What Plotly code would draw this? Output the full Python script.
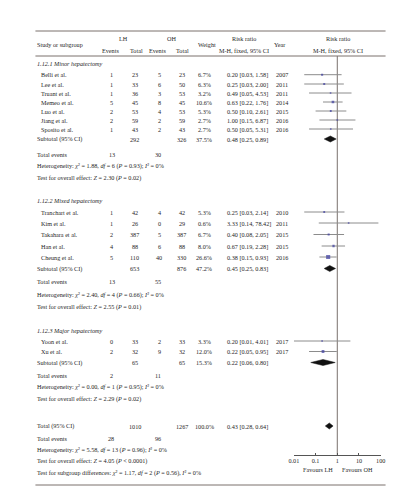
import plotly.graph_objects as go

W, H = 405, 500

# ---- data ----
sub_titles = ["1.12.1 Minor hepatectomy", "1.12.2 Mixed hepatectomy", "1.12.3 Major hepatectomy"]

studies = [
    ["Belli et al.", "Lee et al.", "Truant et al.", "Memeo et al.", "Luo et al.", "Jiang et al.", "Sposito et al."],
    ["Tranchart et al.", "Kim et al.", "Takahara et al.", "Han et al.", "Cheung et al."],
    ["Yoon et al.", "Xu et al."],
]
lh_events = [[1, 1, 1, 5, 2, 2, 1], [1, 1, 2, 4, 5], [0, 2]]
lh_total = [[23, 33, 36, 45, 53, 59, 43], [42, 26, 387, 88, 110], [33, 32]]
oh_events = [[5, 6, 3, 8, 4, 2, 2], [4, 0, 5, 6, 40], [2, 9]]
oh_total = [[23, 50, 53, 45, 53, 59, 43], [42, 29, 387, 88, 330], [33, 32]]
weights = [[6.7, 6.3, 3.2, 10.6, 5.3, 2.7, 2.7], [5.3, 0.6, 6.7, 8.0, 26.6], [3.3, 12.0]]
rr = [[0.20, 0.25, 0.49, 0.63, 0.50, 1.00, 0.50], [0.25, 3.33, 0.40, 0.67, 0.38], [0.20, 0.22]]
rr_lo = [[0.03, 0.03, 0.05, 0.22, 0.10, 0.15, 0.05], [0.03, 0.14, 0.08, 0.19, 0.15], [0.01, 0.05]]
rr_hi = [[1.58, 2.00, 4.53, 1.76, 2.61, 6.87, 5.31], [2.14, 78.42, 2.05, 2.28, 0.93], [4.01, 0.95]]
years = [[2007, 2011, 2011, 2014, 2015, 2016, 2016], [2010, 2011, 2015, 2015, 2016], [2017, 2017]]

sub_lh_total = [292, 653, 65]
sub_oh_total = [326, 876, 65]
sub_weight = [37.5, 47.2, 15.3]
sub_rr = [0.48, 0.45, 0.22]
sub_lo = [0.25, 0.25, 0.06]
sub_hi = [0.89, 0.83, 0.80]
sub_lh_events = [13, 13, 2]
sub_oh_events = [30, 55, 11]
sub_chi2 = ["1.88", "2.40", "0.00"]
sub_df = [6, 4, 1]
sub_het_p = ["0.93", "0.66", "0.95"]
sub_i2 = [0, 0, 0]
sub_z = ["2.30", "2.55", "2.29"]
sub_z_p = ["= 0.02", "= 0.01", "= 0.02"]

total_lh, total_oh, total_w = 1010, 1267, 100.0
total_rr, total_lo, total_hi = 0.43, 0.28, 0.64
total_lh_events, total_oh_events = 28, 96
total_het = ("5.58", 13, "0.96", 0)
total_z = ("4.05", "< 0.0001")
subgroup_diff = ("1.17", 2, "0.56", 0)

tick_vals = [0.01, 0.1, 1, 10, 100]
tick_text = ["0.01", "0.1", "1", "10", "100"]

# ---- layout (pixel rows) ----
row_y = [
    [55, 66.7, 76, 85, 94, 103, 112, 121, 131, 146, 158, 170],
    [192, 204, 215, 226.5, 238, 249, 260.5, 273, 287, 299],
    [322, 333, 343.5, 354.5, 367, 379, 391],
]
total_y = [418, 430, 442, 453, 465]

TXT = "#1f1f1f"
RULE = "#7a716d"
FONT = "Liberation Serif"
FS = 6.2

col_study = 23
col_name = 27
col_ev1, col_tot1, col_ev2, col_tot2 = 101, 125, 150, 173
col_w = 196
col_rr = 217
col_year = 268

annotations = []


def txt(x, y, s, anchor="center", size=FS):
    annotations.append(dict(
        x=x / W, y=y, xref="paper", yref="y", text=s, showarrow=False,
        xanchor=anchor, yanchor="middle", font=dict(family=FONT, size=size, color=TXT),
    ))


def het_text(chi2, df, p, i2, sep=";"):
    return ("<i>χ</i>² = %s, <i>df</i> = %d (<i>P</i> = %s)%s <i>I</i>² = %d%%"
            % (chi2, df, p, sep, i2))


fig = go.Figure()

# header
txt(col_study, 36, "Study or subgroup", "left")
txt(113, 30, "LH")
txt(162, 30, "OH")
txt(100, 42, "Events")
txt(127, 42, "Total")
txt(148, 42, "Events")
txt(174, 42, "Total")
txt(199, 36, "Weight")
txt(237, 30, "Risk ratio")
txt(237, 42, "M-H, fixed, 95% CI")
txt(273, 36, "Year")
txt(333, 30, "Risk ratio")
txt(333, 42, "M-H, fixed, 95% CI")

ci_x, ci_y, sq_x, sq_y, sq_s = [], [], [], [], []


def diamond(lo, mid, hi, y):
    fig.add_trace(go.Scatter(
        x=[lo, mid, hi, mid, lo], y=[y, y - 3, y, y + 3, y], mode="lines",
        fill="toself", fillcolor="#111111", line=dict(color="#111111", width=0.5),
        hoverinfo="skip", showlegend=False,
    ))


for g in range(len(sub_titles)):
    ys = row_y[g]
    txt(col_study, ys[0], "<i>%s</i>" % sub_titles[g], "left")
    n = len(studies[g])
    for i in range(n):
        y = ys[1 + i]
        txt(col_name, y, studies[g][i], "left")
        txt(col_ev1, y, str(lh_events[g][i]))
        txt(col_tot1, y, str(lh_total[g][i]))
        txt(col_ev2, y, str(oh_events[g][i]))
        txt(col_tot2, y, str(oh_total[g][i]))
        txt(col_w, y, "%.1f%%" % weights[g][i])
        txt(col_rr, y, "%.2f [%.2f, %.2f]" % (rr[g][i], rr_lo[g][i], rr_hi[g][i]), "left")
        txt(col_year, y, str(years[g][i]), "left")
        ci_x += [rr_lo[g][i], rr_hi[g][i], None]
        ci_y += [y, y, None]
        sq_x.append(rr[g][i])
        sq_y.append(y)
        sq_s.append(max(1.6, 0.8 * weights[g][i] ** 0.5))
    y_sub, y_ev, y_het, y_z = ys[1 + n:]
    txt(col_study, y_sub, "Subtotal (95% CI)", "left")
    txt(col_tot1, y_sub, str(sub_lh_total[g]))
    txt(col_tot2, y_sub, str(sub_oh_total[g]))
    txt(col_w, y_sub, "%.1f%%" % sub_weight[g])
    txt(col_rr, y_sub, "%.2f [%.2f, %.2f]" % (sub_rr[g], sub_lo[g], sub_hi[g]), "left")
    diamond(sub_lo[g], sub_rr[g], sub_hi[g], y_sub)
    txt(col_study, y_ev, "Total events", "left")
    txt(col_ev1, y_ev, str(sub_lh_events[g]))
    txt(col_ev2 - 1, y_ev, str(sub_oh_events[g]))
    txt(col_study, y_het, "Heterogeneity: " + het_text(sub_chi2[g], sub_df[g], sub_het_p[g], sub_i2[g]), "left")
    txt(col_study, y_z, "Test for overall effect: <i>Z</i> = %s (<i>P</i> %s)" % (sub_z[g], sub_z_p[g]), "left")

# overall
ty = total_y
txt(col_study, ty[0], "Total (95% CI)", "left")
txt(col_tot1, ty[0], str(total_lh))
txt(col_tot2, ty[0], str(total_oh))
txt(col_w, ty[0], "%.1f%%" % total_w)
txt(col_rr, ty[0], "%.2f [%.2f, %.2f]" % (total_rr, total_lo, total_hi), "left")
diamond(total_lo, total_rr, total_hi, ty[0])
txt(col_study, ty[1], "Total events", "left")
txt(col_ev1 - 1, ty[1], str(total_lh_events))
txt(col_ev2 - 1, ty[1], str(total_oh_events))
txt(col_study, ty[2], "Heterogeneity: " + het_text(*total_het), "left")
txt(col_study, ty[3], "Test for overall effect: <i>Z</i> = %s (<i>P</i> %s)" % total_z, "left")
txt(col_study, ty[4], "Test for subgroup differences: " + het_text(*subgroup_diff, sep=","), "left")

txt(313, 461, "Favours LH")
txt(353, 461, "Favours OH")

fig.add_trace(go.Scatter(
    x=ci_x, y=ci_y, mode="lines", line=dict(color="#8c8c8c", width=1),
    hoverinfo="skip", showlegend=False,
))
fig.add_trace(go.Scatter(
    x=sq_x, y=sq_y, mode="markers",
    marker=dict(symbol="square", size=sq_s, color="#3b3b9e", line=dict(width=0)),
    hoverinfo="skip", showlegend=False,
))

shapes = [
    dict(type="line", xref="paper", yref="y", x0=23 / W, x1=382 / W, y0=23, y1=23,
         line=dict(color=RULE, width=1)),
    dict(type="line", xref="paper", yref="y", x0=23 / W, x1=382 / W, y0=48, y1=48,
         line=dict(color=RULE, width=1)),
    dict(type="line", xref="paper", yref="y", x0=23 / W, x1=382 / W, y0=477, y1=477,
         line=dict(color=RULE, width=1)),
    dict(type="line", xref="x", yref="y", x0=1, x1=1, y0=48, y1=447,
         line=dict(color=RULE, width=1), layer="below"),
]

fig.update_layout(
    width=W, height=H,
    margin=dict(l=0, r=0, t=0, b=0),
    paper_bgcolor="white", plot_bgcolor="white",
    showlegend=False,
    annotations=annotations,
    shapes=shapes,
    xaxis=dict(
        type="log", range=[-2, 2], domain=[288 / W, 377 / W],
        anchor="free", position=1 - 447 / H,
        showgrid=False, zeroline=False, showline=True, linecolor="#555555", linewidth=1,
        tickvals=tick_vals, ticktext=tick_text, ticks="inside", ticklen=2,
        tickcolor="#555555", tickfont=dict(family=FONT, size=FS, color=TXT),
    ),
    yaxis=dict(range=[H, 0], domain=[0, 1], visible=False, showgrid=False, zeroline=False),
)

fig.write_html("out.html")
